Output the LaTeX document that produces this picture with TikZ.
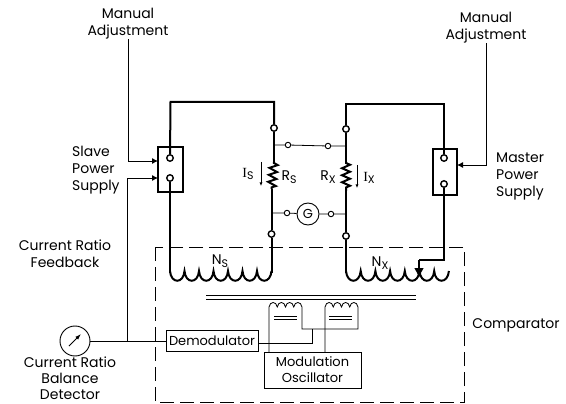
\documentclass[tikz,border=0pt]{standalone}
\usepackage{fontspec}
\setmainfont{Poppins}
\newfontfamily\serifletter{Liberation Serif}
\usetikzlibrary{calc,arrows.meta,decorations.pathmorphing}

\newcommand{\lowS}[1]{\raisebox{-2.5pt}{\fontsize{11}{11}\selectfont #1}}

\begin{document}
\begin{tikzpicture}[x=1pt,y=-1pt,
    heavy/.style={line width=2pt},
    thin wire/.style={line width=0.8pt},
    label/.style={font=\fontsize{14}{17}\selectfont, inner sep=0pt, align=center},
    terminal/.style={circle, draw, fill=white, line width=1.4pt, inner sep=0pt, minimum size=6.5pt},
    smallterm/.style={circle, draw, fill=white, line width=0.9pt, inner sep=0pt, minimum size=5.5pt},
    supply/.style={draw, heavy, inner sep=0pt},
    block/.style={draw, line width=0.9pt, inner sep=0pt, font=\fontsize{13}{16}\selectfont, align=center},
    res/.style={heavy, decorate, decoration={zigzag, segment length=7pt, amplitude=4pt, pre length=1pt, post length=1pt}},
    feed/.style={thin wire, -{Latex[length=6pt,width=6pt]}},
    scaleline/.style={-{Latex[length=3.5pt,width=3pt]}, line width=0.8pt}]

  \useasboundingbox (0,0) rectangle (566,404);

  % Comparator outline
  \draw[line width=0.9pt, dash pattern=on 14pt off 6pt] (155,247) rectangle (464,402);

  % Labels
  \node[label] (manualL) at (128,23.5) {Manual\\Adjustment};
  \node[label] (manualR) at (486,27.5) {Manual\\Adjustment};
  \node[label, align=left, anchor=west] (slavetxt) at (72,170) {Slave\\Power\\Supply};
  \node[label, align=left, anchor=west] (mastertxt) at (496,176) {Master\\Power\\Supply};
  \node[label] (feedtxt) at (65,253.5) {Current Ratio\\Feedback};
  \node[label, font=\fontsize{14}{16}\selectfont] (baltxt) at (70,378) {Current Ratio\\Balance\\Detector};
  \node[label] (cmptxt) at (516,325) {Comparator};
  \node[label] (nstxt) at (220,261) {N\lowS{S}};
  \node[label] (nxtxt) at (380,263) {N\lowS{X}};
  \node[label] (istxt) at (248,174) {{\serifletter I}\lowS{S}};
  \node[label] (rstxt) at (289,177) {R\lowS{S}};
  \node[label] (rxtxt) at (328,177) {R\lowS{X}};
  \node[label] (ixtxt) at (369,178) {{\serifletter I}\lowS{X}};

  % Power supplies
  \node[supply, minimum width=25pt, minimum height=45pt] (slave) at (170.5,169.5) {};
  \node[supply, minimum width=24pt, minimum height=46pt] (master) at (445,172) {};

  % Terminals
  \node[terminal] (slaveT) at (170,158) {};
  \node[terminal] (slaveB) at (170,178) {};
  \node[terminal] (masterT) at (444,158) {};
  \node[terminal] (masterB) at (444,184) {};
  \node[terminal] (stop) at (274,128) {};
  \node[terminal] (sbot) at (271.5,234) {};
  \node[terminal] (xtop) at (346,129) {};
  \node[terminal] (xbot) at (346,236) {};

  % Bridge
  \node[smallterm] (sa) at (288,145) {};
  \node[smallterm] (xa) at (328,146) {};
  \node[smallterm] (sg) at (287,213) {};
  \node[smallterm] (xg) at (331,214) {};
  \node[circle, draw, line width=0.9pt, minimum size=22pt, inner sep=0pt, font=\fontsize{13}{13}\selectfont] (gal) at (308,214) {G};

  \coordinate (sjA) at (274,145);
  \coordinate (sjG) at (271.5,213);
  \coordinate (xjA) at (346,146);
  \coordinate (xjG) at (346,214);
  \coordinate (rsT) at (274,162);
  \coordinate (rsB) at (271.5,189);
  \coordinate (rxT) at (346,162);
  \coordinate (rxB) at (346,191);

  % Heavy loop wires
  \draw[heavy] (slaveT) -- (170.5,102) -- (274,102) -- (stop);
  \draw[heavy] (xtop) -- (346,104) -- (444,104) -- (masterT);
  \draw[heavy] (stop) -- (rsT);
  \draw[res] (rsT) -- (rsB);
  \draw[heavy] (rsB) -- (sbot);
  \draw[heavy] (xtop) -- (rxT);
  \draw[res] (rxT) -- (rxB);
  \draw[heavy] (rxB) -- (xbot);
  \draw[heavy] (sbot) -- (271.5,273);
  \draw[heavy] (xbot) -- (346,273);
  \draw[heavy] (slaveB) -- (170,273);

  % Bridge wires
  \draw[thin wire] (sjA) -- (sa) -- (xa) -- (xjA);
  \draw[thin wire] (sjG) -- (sg) -- (gal) -- (xg) -- (xjG);

  % Current arrows
  \draw[scaleline] (261,162) -- (261,186);
  \draw[scaleline] (357,165) -- (357,188);

  % Windings
  \draw[heavy] (170,271) \foreach \k in {1,...,7} { .. controls +(1,13) and +(-1,13) .. ++(14.5,0) };
  \draw[heavy] (346,271) \foreach \k in {1,...,7} { .. controls +(1,13) and +(-1,13) .. ++(14.7,0) };
  \coordinate (tap) at (419,278);
  \draw[heavy] (masterB) -- (444,260) -- (419,260);
  \draw[heavy, -{Latex[length=10pt,width=10pt]}] (419,260) -- (tap);

  % Core
  \draw[thin wire] (206,295) -- (416,295);
  \draw[thin wire] (206,299) -- (416,299);

  % Detector and feedback
  \node[circle, draw, line width=0.9pt, minimum size=30pt, inner sep=0pt] (det) at (75,341) {};
  \draw[line width=0.9pt, -{Latex[length=6pt,width=4pt]}] (69,346) -- (81,334);
  \node[block, minimum width=92pt, minimum height=21pt] (demod) at (212,341) {Demodulator};
  \node[block, minimum width=97pt, minimum height=36pt] (osc) at (312.5,370) {Modulation\\Oscillator};
  \coordinate (fbk) at (127,341);
  \coordinate (slaveinA) at (158,161);
  \coordinate (slaveinB) at (158,178);
  \coordinate (masterin) at (457,165);
  \draw[thin wire] (det.east) -- (demod.west);
  \draw[feed] (fbk) -- (127,178) -- (slaveinB);
  \draw[feed] (manualL.south) -- (128,161) -- (slaveinA);
  \draw[feed] (manualR.south) -- (486,165) -- (masterin);

  % Modulator cores
  \draw[thin wire] (269,352) -- (269,307) \foreach \k in {1,...,4} { .. controls +(1,-6) and +(-1,-6) .. ++(8.25,0) } -- (302,329) -- (358,329) -- (358,307);
  \draw[thin wire] (325,352) -- (325,307) \foreach \k in {1,...,4} { .. controls +(1,-6) and +(-1,-6) .. ++(8.25,0) };
  \draw[thin wire] (demod.east |- 0,343) -- (312,343) -- (312,329);
  \draw[thin wire] (274,316) -- (297,316);
  \draw[thin wire] (274,319) -- (297,319);
  \draw[thin wire] (329,316) -- (352,316);
  \draw[thin wire] (329,319) -- (352,319);

\end{tikzpicture}
\end{document}
